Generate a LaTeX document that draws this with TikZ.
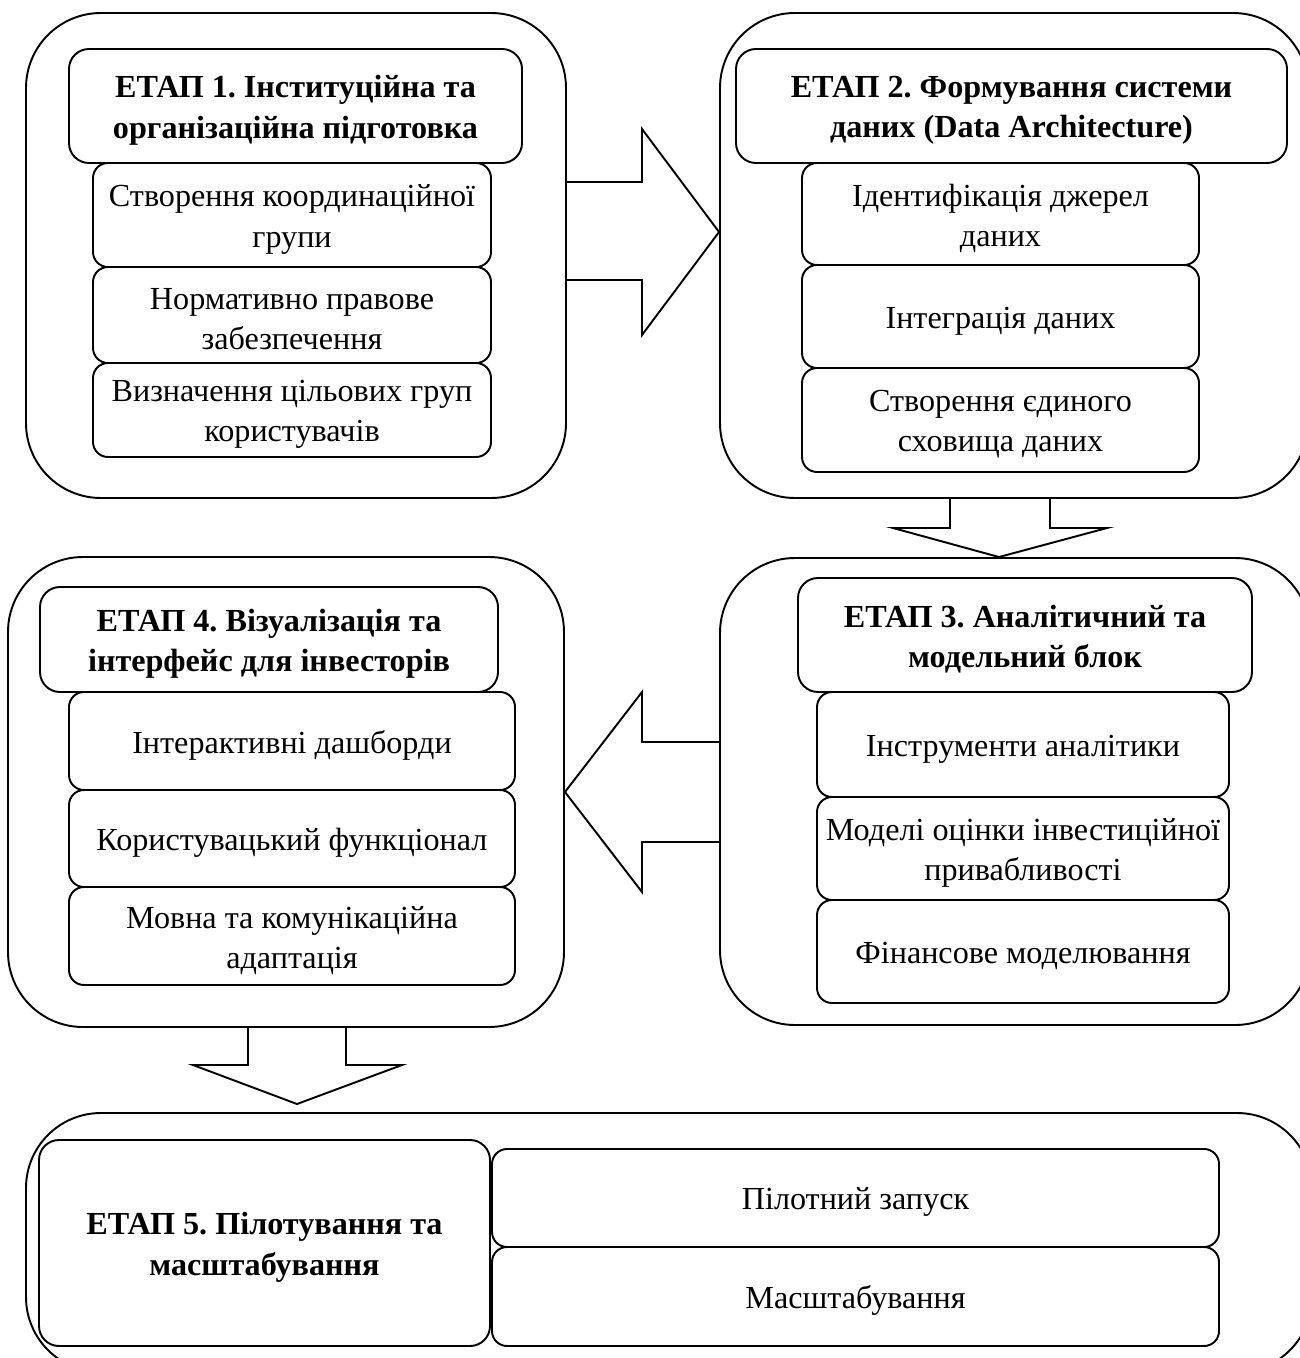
\documentclass[tikz,border=0pt]{standalone}
\usepackage{fontspec}
\setmainfont{Liberation Serif}
\usetikzlibrary{fit, positioning}
\frenchspacing

\newcommand{\boxfont}{\fontsize{18.3}{23}\selectfont}

\tikzset{
  stage/.style={draw, line width=1.1pt, rounded corners=1.5cm, inner sep=0pt},
  head/.style={draw, line width=1.1pt, rounded corners=0.4cm, inner sep=0pt,
    label={[align=center, yshift=-2.5pt, font=\boxfont\bfseries]center:#1}},
  item/.style={draw, line width=1.1pt, rounded corners=0.3cm, inner sep=0pt,
    label={[align=center, yshift=-2.5pt, font=\boxfont]center:#1}},
  blk/.style={draw, line width=1.1pt, line join=miter}
}

\begin{document}
\begin{tikzpicture}[x=0.02cm, y=-0.02cm]
    \useasboundingbox (0,0) rectangle (1300,1358);

    \node[stage, fit={(26,13) (566,498)}] (S1) {};
    \node[head={ЕТАП 1. Інституційна та\\організаційна підготовка}, fit={(69,49) (522,163)}] (H1) {};
    \node[item={Створення координаційної\\групи}, fit={(93,163) (491,267)}] (A1) {};
    \node[item={Нормативно правове\\забезпечення}, fit={(93,267) (491,363)}] (B1) {};
    \node[item={Визначення цільових груп\\користувачів}, fit={(93,363) (491,457)}] (C1) {};

    \node[stage, fit={(720,13) (1308,498)}] (S2) {};
    \node[head={ЕТАП 2. Формування системи\\даних (Data Architecture)}, fit={(736,49) (1287,163)}] (H2) {};
    \node[item={Ідентифікація джерел\\даних}, fit={(802,163) (1199,265)}] (A2) {};
    \node[item={Інтеграція даних}, fit={(802,265) (1199,368)}] (B2) {};
    \node[item={Створення єдиного\\сховища даних}, fit={(802,368) (1199,472)}] (C2) {};

    \node[stage, fit={(720,558) (1310,1025)}] (S3) {};
    \node[head={ЕТАП 3. Аналітичний та\\модельний блок}, fit={(798,578) (1252,692)}] (H3) {};
    \node[item={Інструменти аналітики}, fit={(817,692) (1229,797)}] (A3) {};
    \node[item={Моделі оцінки інвестиційної\\привабливості}, fit={(817,797) (1229,900)}] (B3) {};
    \node[item={Фінансове моделювання}, fit={(817,900) (1229,1003)}] (C3) {};

    \node[stage, fit={(8,557) (564,1027)}] (S4) {};
    \node[head={ЕТАП 4. Візуалізація та\\інтерфейс для інвесторів}, fit={(40,587) (498,692)}] (H4) {};
    \node[item={Інтерактивні дашборди}, fit={(69,692) (515,790)}] (A4) {};
    \node[item={Користувацький функціонал}, fit={(69,790) (515,887)}] (B4) {};
    \node[item={Мовна та комунікаційна\\адаптація}, fit={(69,887) (515,985)}] (C4) {};

    \node[stage, fit={(26,1113) (1312,1372)}] (S5) {};
    \node[head={ЕТАП 5. Пілотування та\\масштабування}, fit={(39,1140) (490,1346)}] (H5) {};
    \node[item={Пілотний запуск}, fit={(492,1149) (1219,1247)}] (A5) {};
    \node[item={Масштабування}, fit={(492,1247) (1219,1346)}] (B5) {};

    \draw[blk] (S1.east |- 0,182) -- (642,182) -- (642,129) -- (S2.west |- 0,232)
        -- (642,335) -- (642,280) -- (S1.east |- 0,280);
    \draw[blk] (950,0 |- S2.south) -- (950,528) -- (893,528) -- (999,0 |- S3.north)
        -- (1107,528) -- (1050,528) -- (1050,0 |- S2.south);
    \draw[blk] (S3.west |- 0,742) -- (642,742) -- (642,692) -- (S4.east |- 0,792)
        -- (642,892) -- (642,842) -- (S3.west |- 0,842);
    \draw[blk] (248,0 |- S4.south) -- (248,1065) -- (193,1065) -- (297,1104)
        -- (402,1065) -- (346,1065) -- (346,0 |- S4.south);
\end{tikzpicture}
\end{document}
